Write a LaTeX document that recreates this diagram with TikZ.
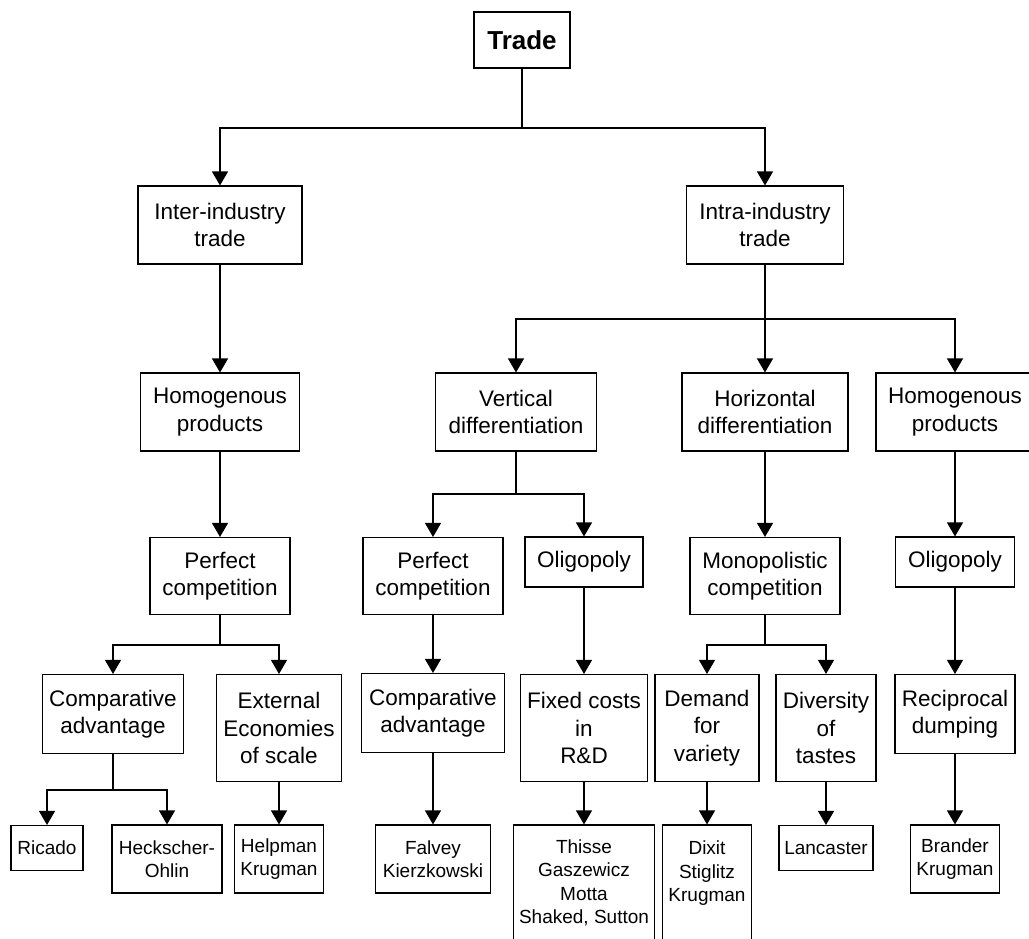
\documentclass[tikz,border=0pt]{standalone}
\usepackage{fontspec}
\setmainfont{Liberation Sans}
\usetikzlibrary{arrows.meta}

\begin{document}
\begin{tikzpicture}[x=1pt,y=-1pt,
  box/.style={draw,line width=1.1pt,align=center,inner sep=0pt,font=\fontsize{22.5}{27.5}\selectfont},
  leaf/.style={box,font=\fontsize{19}{23.5}\selectfont},
  arr/.style={line width=1.1pt,-{Triangle[width=16pt,length=14pt]}}]
      \useasboundingbox[fill=white] (0,0) rectangle (1029,938);
      \node[box,minimum width=96pt,minimum height=56pt,font=\fontsize{26}{30}\selectfont\bfseries] (trade) at (522,40) {Trade};
      \node[box,minimum width=164pt,minimum height=78pt] (inter) at (220,225) {Inter-industry\\trade};
      \node[box,minimum width=157pt,minimum height=78pt] (intra) at (765,225) {Intra-industry\\trade};
      \node[box,minimum width=159pt,minimum height=78pt] (homl) at (220,412) {Homogenous\\products};
      \node[box,minimum width=161pt,minimum height=78pt] (vert) at (516,412) {Vertical\\differentiation};
      \node[box,minimum width=166pt,minimum height=78pt] (horiz) at (765,412) {Horizontal\\differentiation};
      \node[box,minimum width=158pt,minimum height=78pt] (homr) at (955,412) {Homogenous\\products};
      \node[box,minimum width=140pt,minimum height=77pt] (perfl) at (220,576) {Perfect\\competition};
      \node[box,minimum width=140pt,minimum height=77pt] (perfm) at (433,576) {Perfect\\competition};
      \node[box,minimum width=118pt,minimum height=50pt] (oligm) at (584,562) {Oligopoly};
      \node[box,minimum width=150pt,minimum height=77pt] (monop) at (765,576) {Monopolistic\\competition};
      \node[box,minimum width=119pt,minimum height=50pt] (oligr) at (955,562) {Oligopoly};
      \node[box,minimum width=141pt,minimum height=79pt] (compl) at (113,714) {Comparative\\advantage};
      \node[box,minimum width=125pt,minimum height=107pt] (extern) at (279,728) {External\\Economies\\of scale};
      \node[box,minimum width=143pt,minimum height=79pt] (compm) at (433,713) {Comparative\\advantage};
      \node[box,minimum width=127pt,minimum height=107pt] (fixed) at (584,728) {Fixed costs\\in\\R\&D};
      \node[box,minimum width=104pt,minimum height=107pt] (demand) at (707,728) {Demand\\for\\variety};
      \node[box,minimum width=100pt,minimum height=107pt] (divers) at (826,728) {Diversity\\of\\tastes};
      \node[box,minimum width=120pt,minimum height=79pt] (recip) at (955,714) {Reciprocal\\dumping};
      \node[leaf,minimum width=72pt,minimum height=45pt] (ricado) at (47,848) {Ricado};
      \node[leaf,minimum width=110pt,minimum height=68pt] (heck) at (167,859) {Heckscher-\\Ohlin};
      \node[leaf,minimum width=89pt,minimum height=68pt] (helpman) at (279,859) {Helpman\\Krugman};
      \node[leaf,minimum width=115pt,minimum height=68pt] (falvey) at (433,859) {Falvey\\Kierzkowski};
      \node[leaf,minimum width=141pt,minimum height=116pt] (thisse) at (584,883) {Thisse\\Gaszewicz\\Motta\\Shaked, Sutton};
      \node[leaf,minimum width=89pt,minimum height=116pt] (dixit) at (707,883) {Dixit\\Stiglitz\\Krugman\\~};
      \node[leaf,minimum width=94pt,minimum height=45pt] (lancaster) at (826,848) {Lancaster};
      \node[leaf,minimum width=89pt,minimum height=68pt] (brander) at (955,859) {Brander\\Krugman};
      \coordinate (jtrade) at (522,128);
      \coordinate (jintra) at (765,319);
      \coordinate (jperfl) at (220,645);
      \coordinate (jcompl) at (113,790);
      \coordinate (jvert) at (516,494);
      \coordinate (jmonop) at (765,645);
      \draw[line width=1.1pt] (trade) -- (jtrade);
      \draw[arr] (jtrade) -| (inter);
      \draw[arr] (jtrade) -| (intra);
      \draw[line width=1.1pt] (intra) -- (jintra);
      \draw[arr] (jintra) -| (vert);
      \draw[arr] (jintra) -- (horiz);
      \draw[arr] (jintra) -| (homr);
      \draw[arr] (inter) -- (homl);
      \draw[arr] (homl) -- (perfl);
      \draw[line width=1.1pt] (perfl) -- (jperfl);
      \draw[arr] (jperfl) -| (compl);
      \draw[arr] (jperfl) -| (extern);
      \draw[line width=1.1pt] (compl) -- (jcompl);
      \draw[arr] (jcompl) -| (ricado);
      \draw[arr] (jcompl) -| (heck);
      \draw[arr] (extern) -- (helpman);
      \draw[line width=1.1pt] (vert) -- (jvert);
      \draw[arr] (jvert) -| (perfm);
      \draw[arr] (jvert) -| (oligm);
      \draw[arr] (perfm) -- (compm);
      \draw[arr] (compm) -- (falvey);
      \draw[arr] (oligm) -- (fixed);
      \draw[arr] (fixed) -- (thisse);
      \draw[arr] (horiz) -- (monop);
      \draw[line width=1.1pt] (monop) -- (jmonop);
      \draw[arr] (jmonop) -| (demand);
      \draw[arr] (jmonop) -| (divers);
      \draw[arr] (demand) -- (dixit);
      \draw[arr] (divers) -- (lancaster);
      \draw[arr] (homr) -- (oligr);
      \draw[arr] (oligr) -- (recip);
      \draw[arr] (recip) -- (brander);
\end{tikzpicture}
\end{document}
